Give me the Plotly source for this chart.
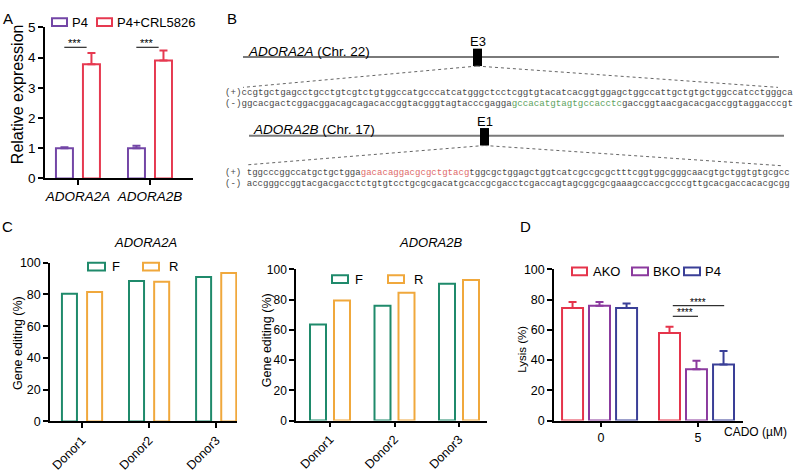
import plotly.graph_objects as go

W, H = 800, 475
def px(x): return x / W
def py(y): return 1 - y / H

FONT = "Arial, Liberation Sans, sans-serif"
MONO = "Liberation Mono, Courier New, monospace"

# ---------------- data ----------------
# Panel A
a_genes = ["ADORA2A", "ADORA2B"]
a_p4 = [1.0, 1.0]
a_p4_err = [0.03, 0.08]
a_crl = [3.78, 3.9]
a_crl_err = [0.37, 0.33]
a_sig_y = [4.34, 4.34]
a_sig_txt = ["***", "***"]

# Panel C
c_donors = ["Donor1", "Donor2", "Donor3"]
c2a_F = [80.5, 88.5, 91.0]
c2a_R = [81.5, 88.0, 93.5]
c2b_F = [63.5, 76.0, 90.5]
c2b_R = [79.5, 84.5, 93.0]

# Panel D
d_cado = ["0", "5"]
d_ako = [74.5, 58.0]
d_ako_err = [4.0, 4.0]
d_bko = [76.0, 34.0]
d_bko_err = [2.5, 5.5]
d_p4 = [74.5, 37.0]
d_p4_err = [3.0, 9.0]
d_sig_y = [69.0, 76.0]
d_sig_txt = ["****", "****"]

# Panel B sequences
seqA_plus = "ccgtgctgagcctgcctgtcgtctgtggccatgcccatcatgggctcctcggtgtacatcacggtggagctggccattgctgtgctggccatcctgggca"
seqA_minus = ["ggcacgactcggacggacagcagacaccggtacgggtagtacccgagga", "gccacatgtagtgccacctc", "gaccggtaacgacacgaccggtaggacccgt"]
seqB_plus = ["tggcccggccatgctgctgga", "gacacaggacgcgctgtacg", "tggcgctggagctggtcatcgccgcgctttcggtggcgggcaacgtgctggtgtgcgcc"]
seqB_minus = "accgggccggtacgacgacctctgtgtcctgcgcgacatgcaccgcgacctcgaccagtagcggcgcgaaagccaccgcccgttgcacgaccacacgcgg"

# colors
A_P4 = "#7346A6"
A_CRL = "#E63950"
C_F = "#1F8A6B"
C_R = "#F0A83C"
D_AKO = "#E5344B"
D_BKO = "#8B3A9E"
D_P4 = "#3A3F97"
SEQ = "#4a4a4a"

fig = go.Figure()

def bar(x, y, color, xa, ya, width, offset, err=None):
    kw = dict(x=x, y=y, xaxis=xa, yaxis=ya, width=width, offset=offset,
              marker=dict(color="white", line=dict(color=color, width=2)),
              showlegend=False, hoverinfo="skip")
    if err is not None:
        kw["error_y"] = dict(type="data", array=err, arrayminus=[0] * len(err),
                             symmetric=False, color=color, thickness=2, width=4)
    fig.add_trace(go.Bar(**kw))

# Panel A
bar(a_genes, a_p4, A_P4, "x", "y", 0.236, -0.306, a_p4_err)
bar(a_genes, a_crl, A_CRL, "x", "y", 0.236, 0.069, a_crl_err)
# Panel C left
bar(c_donors, c2a_F, C_F, "x2", "y2", 0.224, -0.30)
bar(c_donors, c2a_R, C_R, "x2", "y2", 0.224, 0.075)
# Panel C right
bar(c_donors, c2b_F, C_F, "x3", "y3", 0.248, -0.31)
bar(c_donors, c2b_R, C_R, "x3", "y3", 0.248, 0.062)
# Panel D
bar(d_cado, d_ako, D_AKO, "x4", "y4", 0.2165, -0.402, d_ako_err)
bar(d_cado, d_bko, D_BKO, "x4", "y4", 0.2165, -0.124, d_bko_err)
bar(d_cado, d_p4, D_P4, "x4", "y4", 0.2165, 0.155, d_p4_err)

def axis_style(size):
    return dict(showline=True, linecolor="black", linewidth=1.5, ticks="outside",
                ticklen=5, tickwidth=1.5, tickcolor="black", showgrid=False,
                zeroline=False, fixedrange=True,
                tickfont=dict(family=FONT, size=size, color="black"))

fig.update_layout(
    width=W, height=H, margin=dict(l=0, r=0, t=0, b=0),
    paper_bgcolor="white", plot_bgcolor="white", barmode="overlay",
    font=dict(family=FONT, color="black"),
    xaxis=dict(domain=[px(45), px(193)], range=[-0.458, 1.597], type="category",
               tickvals=a_genes, ticktext=["<i>%s</i>" % g for g in a_genes], anchor="y", **axis_style(13.5)),
    yaxis=dict(domain=[py(177), py(21)], range=[0, 5], dtick=1, anchor="x", **axis_style(13.5)),
    xaxis2=dict(domain=[px(50), px(237)], range=[-0.478, 2.31], type="category",
                tickangle=-45, anchor="y2", **axis_style(12.5)),
    yaxis2=dict(domain=[py(428), py(264)], range=[0, 100], dtick=20, anchor="x2", **axis_style(12.5)),
    xaxis3=dict(domain=[px(296), px(487)], range=[-0.527, 2.434], type="category",
                tickangle=-45, anchor="y3", **axis_style(12.5)),
    yaxis3=dict(domain=[py(427), py(271)], range=[0, 100], dtick=20, anchor="x3", **axis_style(12)),
    xaxis4=dict(domain=[px(554), px(743)], range=[-0.485, 1.464], type="category", anchor="y4", **axis_style(12.5)),
    yaxis4=dict(domain=[py(427), py(271)], range=[0, 100], dtick=20, anchor="x4", **axis_style(12.5)),
)

shapes = []
annots = []

def ann(x, y, text, size=13, xanchor="center", yanchor="middle", angle=0, family=FONT, color="black"):
    annots.append(dict(x=px(x), y=py(y), xref="paper", yref="paper", text=text, showarrow=False,
                       xanchor=xanchor, yanchor=yanchor, textangle=angle,
                       font=dict(family=family, size=size, color=color)))

def legend_box(x0, x1, yc, color, label, tx):
    shapes.append(dict(type="rect", xref="paper", yref="paper", x0=px(x0), x1=px(x1),
                       y0=py(yc + 4), y1=py(yc - 4), line=dict(color=color, width=2), fillcolor="white"))
    ann(tx, yc, label, size=13, xanchor="left")

# panel labels
ann(8, 12, "A", size=15)
ann(232, 12, "B", size=15)
ann(7, 227, "C", size=15)
ann(525, 227, "D", size=15)

# Panel A extras
ann(17, 90, "Relative expression", size=16, angle=-90)
legend_box(52, 67, 15.5, A_P4, "P4", 70)
legend_box(97, 112, 15.5, A_CRL, "P4+CRL5826", 115)
for i, (yv, t) in enumerate(zip(a_sig_y, a_sig_txt)):
    shapes.append(dict(type="line", xref="x", yref="y", x0=i - 0.19, x1=i + 0.12, y0=yv, y1=yv,
                       line=dict(color="black", width=1)))
    annots.append(dict(x=i - 0.035, y=yv, xref="x", yref="y", text=t, showarrow=False,
                       yanchor="bottom", yshift=-4, font=dict(family=FONT, size=11, color="black")))

# Panel C extras
ann(145, 243, "<i>ADORA2A</i>", size=13)
ann(430, 243, "<i>ADORA2B</i>", size=13)
ann(18, 347, "Gene editing (%)", size=12.5, angle=-90)
ann(267, 344, "Gene editing (%)", size=12.5, angle=-90)
legend_box(88, 105, 268, C_F, "F", 110)
legend_box(143, 159, 268, C_R, "R", 167)
legend_box(332, 348, 281, C_F, "F", 353)
legend_box(388, 404, 281, C_R, "R", 412)

# Panel D extras
ann(522, 354, "Lysis (%)", size=11.5, angle=-90)
ann(755, 439, "CADO (µM)", size=12)
legend_box(572, 587, 273, D_AKO, "AKO", 591)
legend_box(632, 648, 273, D_BKO, "BKO", 651)
legend_box(684, 700, 273, D_P4, "P4", 703)
d_sig_x = [(0.74, 1.0), (0.74, 1.27)]
for (x0, x1), yv, t in zip(d_sig_x, d_sig_y, d_sig_txt):
    shapes.append(dict(type="line", xref="x4", yref="y4", x0=x0, x1=x1, y0=yv, y1=yv,
                       line=dict(color="black", width=1)))
    annots.append(dict(x=(x0 + x1) / 2, y=yv, xref="x4", yref="y4", text=t, showarrow=False,
                       yanchor="bottom", yshift=-4, font=dict(family=FONT, size=10, color="black")))

# Panel B diagram
def line(x0, y0, x1, y1, color, width, dash="solid"):
    shapes.append(dict(type="line", xref="paper", yref="paper", x0=px(x0), y0=py(y0), x1=px(x1), y1=py(y1),
                       line=dict(color=color, width=width, dash=dash)))

# ADORA2A
line(243, 51.7, 779, 51.7, "#7a7a7a", 2)
shapes.append(dict(type="rect", xref="paper", yref="paper", x0=px(473), x1=px(482), y0=py(61), y1=py(43),
                   fillcolor="black", line=dict(width=0)))
ann(477.5, 36, "E3", size=13)
ann(246, 45.5, "<i>ADORA2A</i> (Chr. 22)", size=13.5, xanchor="left")
line(477, 61, 243, 83, "#666666", 1, "dot")
line(477, 61, 778, 83, "#666666", 1, "dot")
ann(223, 88, "(+)" + seqA_plus, size=9.2, xanchor="left", family=MONO, color=SEQ)
ann(223, 99.5, "(-)" + seqA_minus[0] + "<span style='color:#5EA35E'>" + seqA_minus[1] + "</span>" + seqA_minus[2],
    size=9.2, xanchor="left", family=MONO, color=SEQ)

# ADORA2B
line(249, 133, 784, 133, "#7a7a7a", 2)
shapes.append(dict(type="rect", xref="paper", yref="paper", x0=px(480), x1=px(489), y0=py(143), y1=py(125),
                   fillcolor="black", line=dict(width=0)))
ann(484.5, 118, "E1", size=13)
ann(251, 127, "<i>ADORA2B</i> (Chr. 17)", size=13.5, xanchor="left")
line(484.5, 143, 247, 163, "#666666", 1, "dot")
line(484.5, 143, 783, 164, "#666666", 1, "dot")
ann(223, 170.5, "(+) " + seqB_plus[0] + "<span style='color:#E06A6A'>" + seqB_plus[1] + "</span>" + seqB_plus[2],
    size=9.05, xanchor="left", family=MONO, color=SEQ)
ann(223, 182, "(-) " + seqB_minus, size=9.05, xanchor="left", family=MONO, color=SEQ)

fig.update_layout(shapes=shapes, annotations=annots)

fig.write_html("out.html", config={"displayModeBar": False},
               post_script="document.body.style.margin='0px';document.body.style.overflow='hidden';")
